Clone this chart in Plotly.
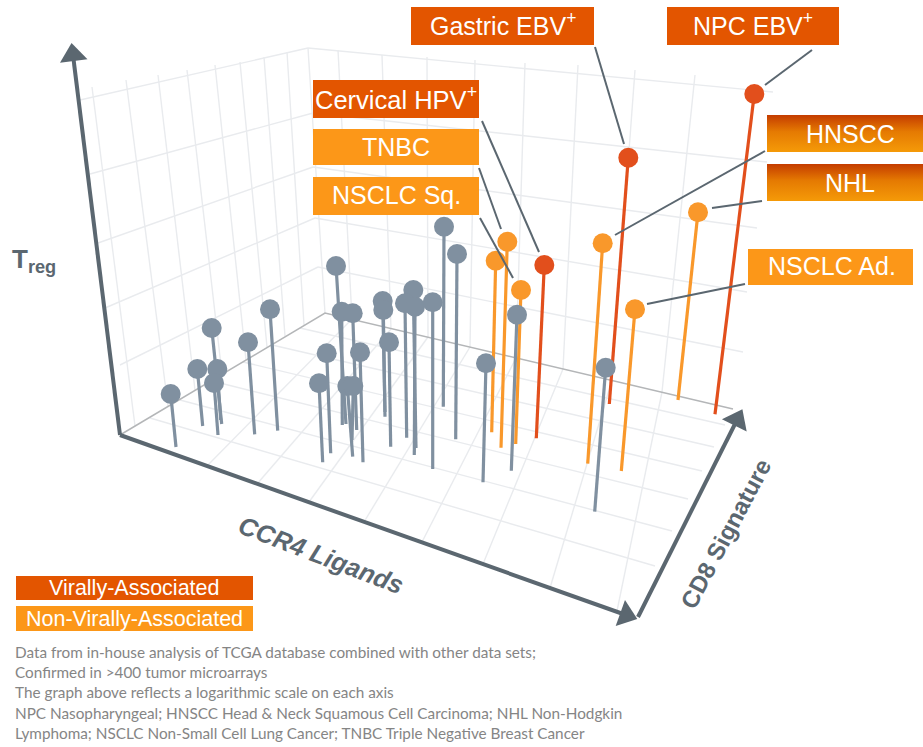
import plotly.graph_objects as go

# Pins (horizontal position, height at head and foot)
grey_top_x = [444,457,336,270,248,211.7,197.3,217.3,214,170.7,341.7,352.7,326.7,360,319,347.3,353.3,382.7,383.3,389,413.3,405,415,432.7,486,517,605.7]
grey_top_y = [226.7,254,266,309.3,342.3,328,369,369,383,394,311.7,313.3,353.3,352.3,383.3,386,386,301,310,342.3,290,303.3,306.7,302.3,363.3,314.7,367.7]
grey_base_x = [443.3,455.7,346,277.7,254.7,221.7,202.7,220.7,218,176,342.3,356.7,330.7,363,322.7,352.7,352,385,385,390.7,416,406.7,414.3,432.7,483,511.3,594.7]
grey_base_y = [406.7,439.3,424,430.7,434.3,424,426,420,435,447,425,430,453.3,462.3,462.3,456.7,440,412,416.7,446.7,448,437.7,455,469,482.3,470.7,511.7]

orange_names = ["TNBC", "Unlabelled", "NSCLC Sq.", "HNSCC", "NHL", "NSCLC Ad."]
orange_top_x = [507.3,495.7,521,602.7,698,635]
orange_top_y = [241.7,260.7,290,243.3,212.3,309.3]
orange_base_x = [501,491.7,515.7,587.7,678,621.3]
orange_base_y = [447.7,432.3,444,463.7,400,471]

red_names = ["Cervical HPV+", "Gastric EBV+", "NPC EBV+"]
red_top_x = [544.3,628.3,754.3]
red_top_y = [265,157.7,94]
red_base_x = [536.3,609.3,715]
red_base_y = [438.3,404,414.3]

# Callout boxes: text, left, right, top, bottom, kind
box_text = ["Gastric EBV<sup>+</sup>","NPC EBV<sup>+</sup>","Cervical HPV<sup>+</sup>","TNBC","NSCLC Sq.","HNSCC","NHL","NSCLC Ad."]
box_left = [411,667,313,313,313,767,767,748]
box_right = [594,839,479,479,479,923,923,913]
box_top = [7,7,80,129,177,115,164,249]
box_bottom = [45,45,118,165,215,152,201,285]
box_kind = ["red","red","red","orange","orange","mixed","mixed","orange"]
box_size = [25,25,25.5,25,25,25,25,25]
box_nudge_x = [0,0,0,0,0,5,5,1]
box_nudge_y = [-2,-2,-1,0,-1,0,0,-1]

lead_x0 = [595,812,482,479,480,765,762,745]
lead_y0 = [47,50,121,168,218,151,201,284]
lead_x1 = [624,765,539,501,513,615,712,647]
lead_y1 = [144,85,252,229,278,235,208,304]

# Wall and floor grid
lw_x0 = [92,126,158,187,215,240,264,287]
lw_y0 = [87,80,75,70,65,62,57,52]
lw_x1 = [135,168,195,222,246,267,285,304]
lw_y1 = [426,406,390,374,360,347,336,325]
lh_x0 = [80,90,98,105,120]
lh_y0 = [100,174,243,308,365]
lh_x1 = [308,313,313,315,318]
lh_y1 = [48,113,167,218,267]
bv_x0 = [308,338,382,427,475,525,578,635,695]
bv_y0 = [48,50,55,57,60,63,65,70,75]
bv_x1 = [325,352,391,428,470,516,563,612,662]
bv_y1 = [313,319,329,337,347,358,369,380,392]
bh_x0 = [308,313,313,315,318]
bh_y0 = [48,113,167,218,267]
bh_x1 = [773,767,757,747,743]
bh_y1 = [92,162,228,292,352]
fa_x0 = [300,272,243,212,180,150]
fa_y0 = [328,345,362,381,400,418]
fa_x1 = [725,714,702,688,672,655]
fa_y1 = [425,447,471,499,531,566]
fb_x0 = [207,257,309,364,422,483,550,617]
fb_y0 = [466,484,502,522,542,564,588,611]
fb_x1 = [352,391,428,470,516,563,612,662]
fb_y1 = [319,329,337,347,358,369,380,392]
edge_x = [120,325,733]
edge_y = [435,313,409]

# Axis arrows: start, end, head angle
axis_x0 = [120,120,638]
axis_y0 = [435,435,617]
axis_x1 = [73,626,737]
axis_y1 = [55,615,420]
axis_angle = [-7,109.6,26.7]

axis_titles = ["CCR4 Ligands","CD8 Signature","T<sub>reg</sub>"]
legend_labels = ["Virally-Associated","Non-Virally-Associated"]
foot_lines = [
    "Data from in-house analysis of TCGA database combined with other data sets;",
    "Confirmed in >400 tumor microarrays",
    "The graph above reflects a logarithmic scale on each axis",
    "NPC Nasopharyngeal; HNSCC Head & Neck Squamous Cell Carcinoma; NHL Non-Hodgkin",
    "Lymphoma; NSCLC Non-Small Cell Lung Cancer; TNBC Triple Negative Breast Cancer",
]

RED_BOX = "#E35500"
ORANGE_BOX = "#FC9718"
RED = "#E24F1C"
ORANGE = "#F9982B"
GREY = "#8090A0"
AXIS = "#5B6770"
GRID = "#E9EBEE"

def segs(x0, y0, x1, y1):
    xs, ys = [], []
    for a, b, c, d in zip(x0, y0, x1, y1):
        xs += [a, c, None]
        ys += [b, d, None]
    return xs, ys

fig = go.Figure()

def line(xs, ys, color, width):
    fig.add_trace(go.Scatter(x=xs, y=ys, mode="lines", line=dict(color=color, width=width),
                             hoverinfo="skip", showlegend=False))

for g in [(lw_x0, lw_y0, lw_x1, lw_y1), (lh_x0, lh_y0, lh_x1, lh_y1), (bv_x0, bv_y0, bv_x1, bv_y1),
          (bh_x0, bh_y0, bh_x1, bh_y1), (fa_x0, fa_y0, fa_x1, fa_y1), (fb_x0, fb_y0, fb_x1, fb_y1)]:
    line(*segs(*g), GRID, 1.4)
line(edge_x, edge_y, "#B4B6B8", 1.5)

# Axis lines and heads
line(*segs(axis_x0, axis_y0, axis_x1, axis_y1), AXIS, 4)
fig.add_trace(go.Scatter(x=axis_x1, y=axis_y1, mode="markers", hoverinfo="skip", showlegend=False,
                         marker=dict(symbol="triangle-up", size=24, color=AXIS, angle=axis_angle, line=dict(width=0))))

# Pins
for tx, ty, bx, by, col in [(orange_top_x, orange_top_y, orange_base_x, orange_base_y, ORANGE),
                            (red_top_x, red_top_y, red_base_x, red_base_y, RED),
                            (grey_top_x, grey_top_y, grey_base_x, grey_base_y, GREY)]:
    line(*segs(tx, ty, bx, by), col, 3.2)
    fig.add_trace(go.Scatter(x=tx, y=ty, mode="markers", hoverinfo="skip", showlegend=False,
                             marker=dict(size=20, color=col, line=dict(width=0))))

# Leaders
line(*segs(lead_x0, lead_y0, lead_x1, lead_y1), AXIS, 2)

# Boxes
annotations = []
for t, l, r, tp, bt, k, sz, nx, ny in zip(box_text, box_left, box_right, box_top, box_bottom, box_kind, box_size, box_nudge_x, box_nudge_y):
    kw = dict(fillcolor=RED_BOX if k == "red" else ORANGE_BOX)
    if k == "mixed":
        kw = dict(fillgradient=dict(type="vertical", start=tp, stop=bt,
                                    colorscale=[[0, "#C43C00"], [0.45, "#E57A02"], [1, "#F59A08"]]))
    fig.add_trace(go.Scatter(x=[l, r, r, l, l], y=[tp, tp, bt, bt, tp], mode="lines", fill="toself",
                             line=dict(width=0), hoverinfo="skip", showlegend=False, **kw))
    annotations.append(dict(x=(l + r) / 2 + nx, y=(tp + bt) / 2 + ny, text=t, showarrow=False,
                            font=dict(family="Liberation Sans", size=sz, color="white")))

# Legend boxes
leg_top = [576, 606]
leg_bottom = [600, 631]
for lab, tp, bt, col in zip(legend_labels, leg_top, leg_bottom, [RED_BOX, ORANGE_BOX]):
    fig.add_trace(go.Scatter(x=[16, 253, 253, 16, 16], y=[tp, tp, bt, bt, tp], mode="lines", fill="toself",
                             fillcolor=col, line=dict(width=0), hoverinfo="skip", showlegend=False))
    annotations.append(dict(x=134, y=(tp + bt) / 2, text=lab, showarrow=False,
                            font=dict(family="Liberation Sans", size=21.5, color="white")))

# Axis titles
annotations.append(dict(x=321, y=555, text="<b><i>" + axis_titles[0] + "</i></b>", textangle=21, showarrow=False,
                        font=dict(family="Liberation Sans", size=25.5, color=AXIS)))
annotations.append(dict(x=725, y=534, text="<b>" + axis_titles[1] + "</b>", textangle=-62, showarrow=False,
                        font=dict(family="Liberation Sans", size=24, color=AXIS)))
annotations.append(dict(x=34, y=260, text="<b>" + axis_titles[2] + "</b>", showarrow=False,
                        font=dict(family="Liberation Sans", size=26, color=AXIS)))

# Footnotes
for ln, yy in zip(foot_lines, [652, 672, 692, 713, 733]):
    annotations.append(dict(x=15, y=yy, text=ln, showarrow=False, xanchor="left", xshift=-2,
                            font=dict(family="Lato", size=15.3, color="#858585")))

fig.update_layout(width=923, height=747, margin=dict(l=0, r=0, t=0, b=0), paper_bgcolor="white",
                  plot_bgcolor="white", showlegend=False, annotations=annotations,
                  xaxis=dict(range=[0, 923], visible=False, fixedrange=True),
                  yaxis=dict(range=[747, 0], visible=False, fixedrange=True))
fig.write_html("out.html", post_script="document.body.style.margin='0';document.body.style.overflow='hidden';",
               config={"displayModeBar": False})
